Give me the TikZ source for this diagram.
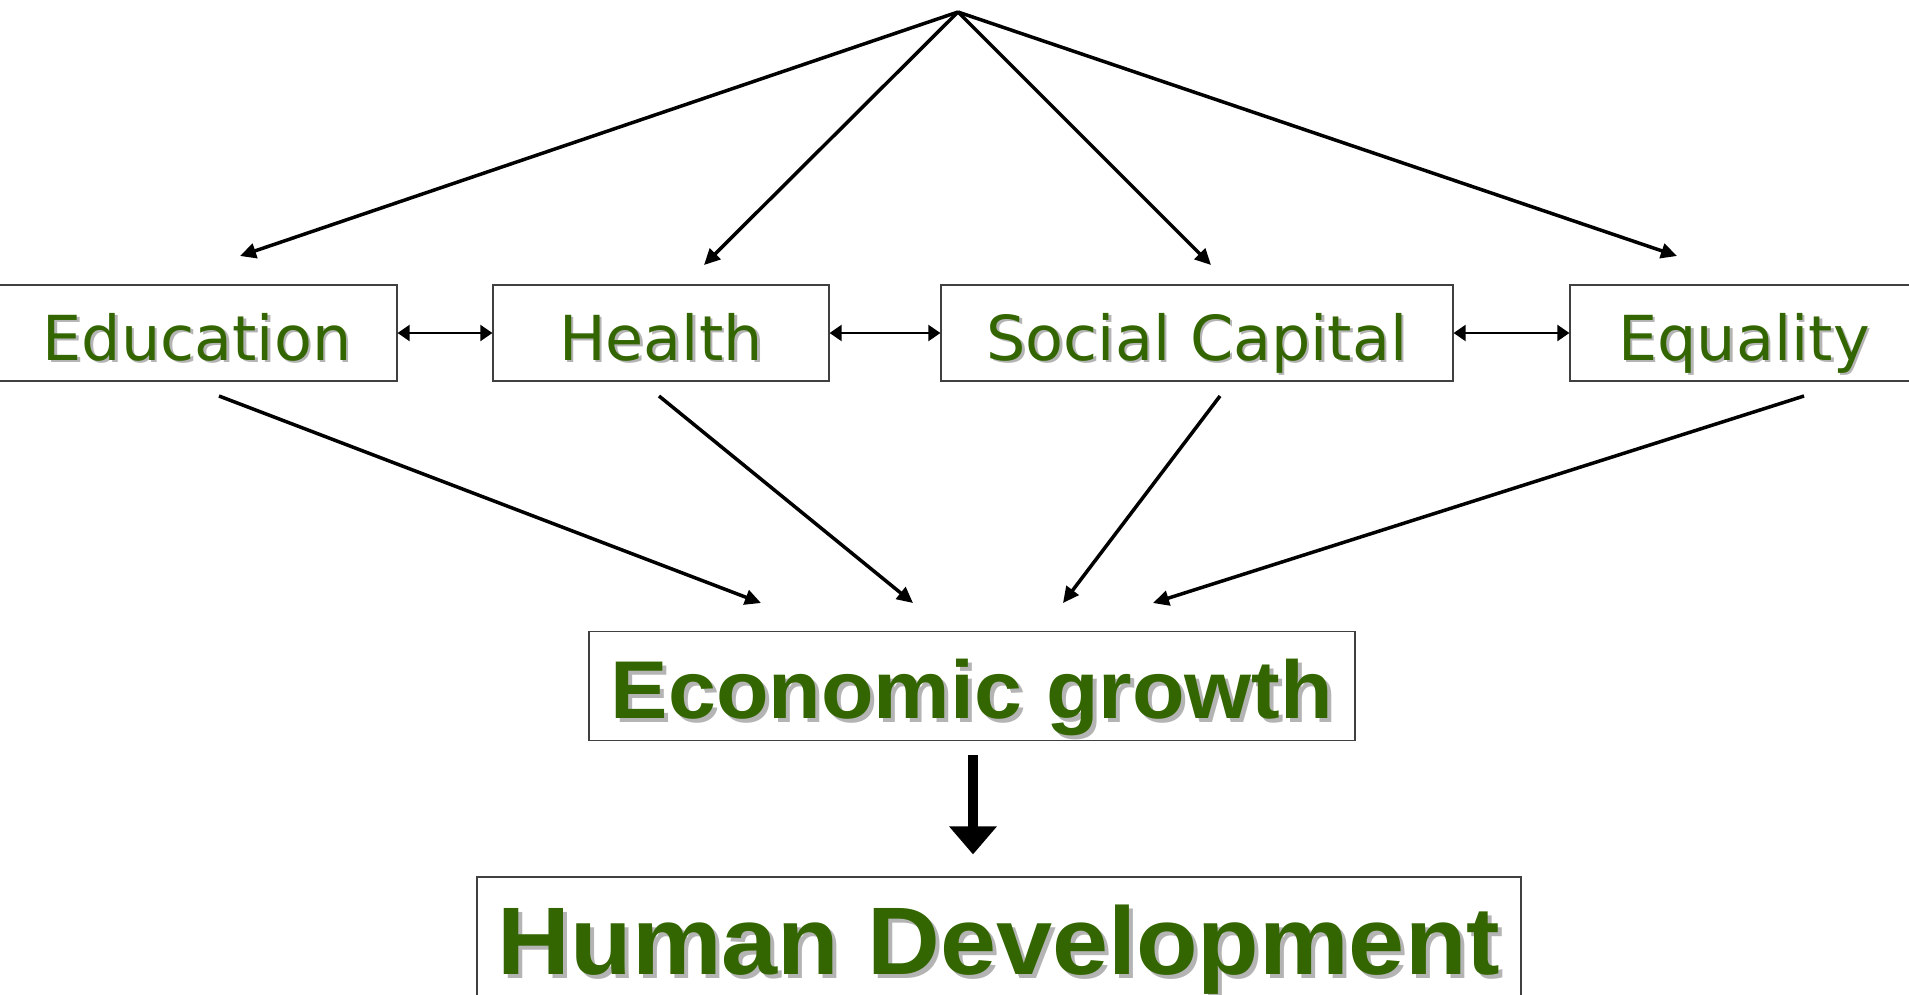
\documentclass[tikz,border=0pt]{standalone}
\usepackage{fontspec}
\setmainfont{DejaVu Sans}
\newfontfamily\arialfont{Liberation Sans}[FakeStretch=1.05]
\usetikzlibrary{arrows.meta}
\definecolor{leafgreen}{HTML}{336600}
\definecolor{shadowgray}{HTML}{B4B4B4}
\newcommand{\shadowed}[2]{\makebox[0pt][l]{\hspace{#1}\raisebox{-#1}{\color{shadowgray}#2}}#2}
\tikzset{
  factor/.style={draw=black!75,line width=1.2pt,text=leafgreen,inner sep=0pt,
    minimum height=96pt,text height=60pt,text depth=6pt,font=\fontsize{62}{70}\selectfont},
  outcome/.style={draw=black!75,line width=1.2pt,text=leafgreen,inner sep=0pt,
    font=\arialfont\bfseries},
  link/.style={line width=3.5pt,-{Triangle[length=16pt,width=15pt]}},
  twoway/.style={line width=2pt,{Triangle[length=12pt,width=16pt]}-{Triangle[length=12pt,width=16pt]}}
}

\begin{document}
\begin{tikzpicture}[x=1pt,y=-1pt]
    \useasboundingbox (0,0) rectangle (1909,994);
    % factors
    \node[factor,minimum width=400pt] (edu) at (197,333) {\shadowed{2.5pt}{Education}};
    \node[factor,minimum width=336pt] (hea) at (661,333) {\shadowed{2.5pt}{Health}};
    \node[factor,minimum width=512pt] (soc) at (1197,333) {\shadowed{2.5pt}{Social Capital}};
    \node[factor,minimum width=348pt] (equ) at (1744,333) {\shadowed{2.5pt}{Equality}};
    % outcomes
    \node[outcome,minimum width=766pt,minimum height=109pt,text height=82pt,text depth=18pt,
      font=\arialfont\bfseries\fontsize{82}{90}\selectfont]
      (eco) at (972,686) {\shadowed{4pt}{Economic growth}};
    \node[outcome,minimum width=1044pt,minimum height=130pt,text height=96pt,text depth=32pt,
      font=\arialfont\bfseries\fontsize{96}{104}\selectfont]
      (hum) at (999,942) {\shadowed{4pt}{Human Development}};

    \coordinate (top) at (958,12);
    \coordinate (edu-in) at (240,256);
    \coordinate (hea-in) at (704,265);
    \coordinate (soc-in) at (1211,265);
    \coordinate (equ-in) at (1677,256);
    \coordinate (edu-out) at (219,396);
    \coordinate (hea-out) at (659,396);
    \coordinate (soc-out) at (1220,396);
    \coordinate (equ-out) at (1804,396);
    \coordinate (eco-a) at (761,603);
    \coordinate (eco-b) at (913,603);
    \coordinate (eco-c) at (1063,603);
    \coordinate (eco-d) at (1153,603);

    \draw[link] (top) -- (edu-in);
    \draw[link] (top) -- (hea-in);
    \draw[link] (top) -- (soc-in);
    \draw[link] (top) -- (equ-in);

    \draw[twoway] (edu.east) -- (hea.west);
    \draw[twoway] (hea.east) -- (soc.west);
    \draw[twoway] (soc.east) -- (equ.west);

    \draw[link] (edu-out) -- (eco-a);
    \draw[link] (hea-out) -- (eco-b);
    \draw[link] (soc-out) -- (eco-c);
    \draw[link] (equ-out) -- (eco-d);

    \draw[line width=10pt,-{Triangle[length=28pt,width=46pt]},shorten <=14pt,shorten >=22pt]
      ([xshift=1pt]eco.south) -- ([xshift=-26pt]hum.north);
\end{tikzpicture}
\end{document}
